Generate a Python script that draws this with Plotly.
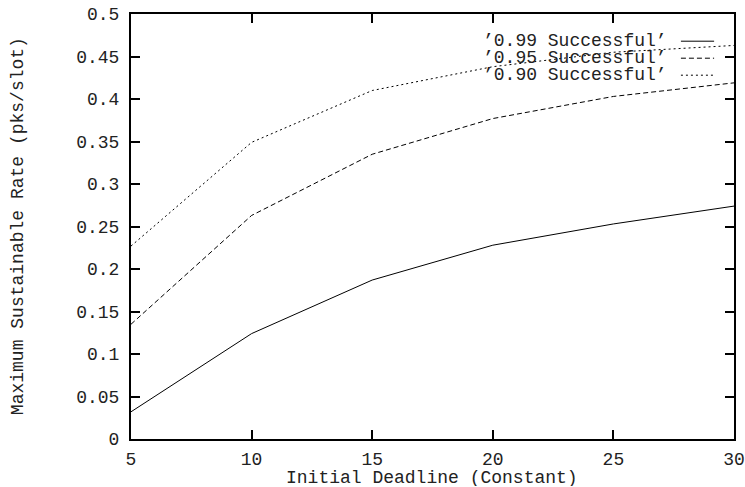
import plotly.graph_objects as go

deadline = [5, 10, 15, 20, 25, 30]
rate_099 = [0.032, 0.124, 0.187, 0.228, 0.253, 0.274]
rate_095 = [0.135, 0.263, 0.335, 0.377, 0.403, 0.419]
rate_090 = [0.227, 0.349, 0.410, 0.438, 0.455, 0.463]
series_names = ["\u20190.99 Successful\u2019", "\u20190.95 Successful\u2019", "\u20190.90 Successful\u2019"]
y_ticks = [0, 0.05, 0.1, 0.15, 0.2, 0.25, 0.3, 0.35, 0.4, 0.45, 0.5]
x_ticks = [5, 10, 15, 20, 25, 30]
x_title = "Initial Deadline (Constant)"
y_title = "Maximum Sustainable Rate (pks/slot)"

FONT = "Liberation Mono"
fs = 18
TXT = "#222"
dashes = ["solid", "5px,3px", "2px,3px"]
series = [rate_099, rate_095, rate_090]

fig = go.Figure()
for name, ys, d in zip(series_names, series, dashes):
    fig.add_trace(go.Scatter(x=deadline, y=ys, mode="lines", name=name,
                             line=dict(color="black", width=1, dash=d),
                             showlegend=False))

# gnuplot-style key (text right-aligned, line sample to the right)
key_y = [0.936, 0.896, 0.856]
for name, d, ky in zip(series_names, dashes, key_y):
    fig.add_annotation(x=0.8905, y=ky, xref="paper", yref="paper", text=name,
                       showarrow=False, xanchor="right", yanchor="middle",
                       height=16, borderpad=0,
                       font=dict(family=FONT, size=fs, color=TXT))
    fig.add_shape(type="line", xref="paper", yref="paper", x0=0.912, x1=0.967,
                  y0=ky, y1=ky, line=dict(color="black", width=1, dash=d))

# axis titles (placed like gnuplot)
fig.add_annotation(x=0.499, y=-0.092, xref="paper", yref="paper", text=x_title,
                   showarrow=False, xanchor="center", yanchor="middle",
                   height=16, borderpad=0,
                   font=dict(family=FONT, size=fs, color=TXT))
fig.add_annotation(x=-0.188, y=0.5, xref="paper", yref="paper", text=y_title,
                   showarrow=False, xanchor="center", yanchor="middle",
                   textangle=-90, borderpad=0,
                   font=dict(family=FONT, size=fs, color=TXT))

axis_common = dict(showline=True, mirror="ticks", linecolor="black", linewidth=2,
                   ticks="inside", ticklen=9, tickwidth=1.5, tickcolor="black",
                   showgrid=False, zeroline=False, automargin=False,
                   tickfont=dict(family=FONT, size=fs, color=TXT))

fig.update_xaxes(range=[5, 30], tickvals=x_ticks, ticklabelstandoff=2, **axis_common)
fig.update_yaxes(range=[0, 0.5], tickvals=y_ticks, ticklabelstandoff=6, **axis_common)

fig.update_layout(width=745, height=487, margin=dict(l=131, r=11, t=14, b=48, autoexpand=False),
                  plot_bgcolor="white", paper_bgcolor="white")

fig.write_html("out.html")
